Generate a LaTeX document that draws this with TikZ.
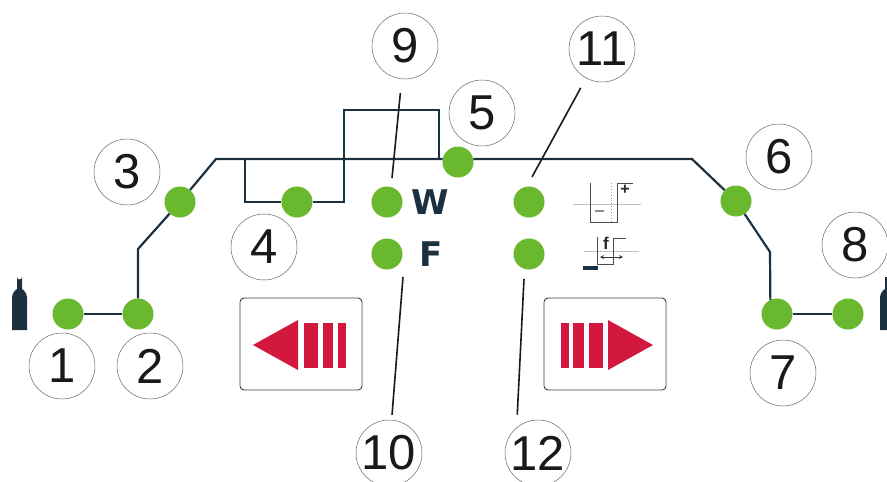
\documentclass[tikz,border=0pt]{standalone}
\usepackage{fontspec}
\setmainfont{Liberation Sans}
\newfontfamily\heavyfont{DejaVu Sans}
\definecolor{wirecol}{HTML}{1C3140}
\definecolor{dotcol}{HTML}{6AB82E}
\definecolor{redcol}{HTML}{D2183C}
\begin{document}
\begin{tikzpicture}[x=1pt,y=-1pt]
\tikzstyle{dot}=[circle,fill=dotcol,draw=none,minimum size=31pt,inner sep=0pt];
\tikzstyle{num}=[circle,draw=black!60,line width=0.5pt,minimum size=66pt,inner sep=0pt,font=\fontsize{49}{49}\selectfont,text=black!90];
\tikzstyle{wire}=[draw=wirecol,line width=2.2pt];
\tikzstyle{leader}=[draw=black!90,line width=1.6pt];
\tikzstyle{bigletter}=[inner sep=0pt,font=\heavyfont\fontsize{34}{34}\selectfont\bfseries,text=wirecol];
\tikzstyle{iconline}=[draw=black!70,line width=0.9pt];
\tikzstyle{iconrule}=[draw=black!25,line width=0.7pt];
\tikzstyle{panel}=[draw=black!75,line width=0.9pt,rounded corners=4pt];
\useasboundingbox (0,0) rectangle (887,482);
\coordinate (a) at (138,249);
\coordinate (b) at (216,159);
\coordinate (c) at (692,159);
\coordinate (d) at (770,252);
\coordinate (e) at (245,159);
\coordinate (f) at (344,159);
\coordinate (g) at (439,159);
% green dots
\node[dot] (d1) at (68,314) {};
\node[dot] (d2) at (138,314) {};
\node[dot] (d3) at (180,202) {};
\node[dot] (d4) at (297,202) {};
\node[dot] (d5) at (458,162) {};
\node[dot] (d6) at (736,201) {};
\node[dot] (d7) at (777,314) {};
\node[dot] (d8) at (848,314) {};
\node[dot] (d9) at (387,202) {};
\node[dot] (d10) at (387,254) {};
\node[dot] (d11) at (529,202) {};
\node[dot] (d12) at (529,254) {};
% wires
\draw[wire] (d1) -- (d2);
\draw[wire] (d2) -- (a) -- (d3);
\draw[wire] (d3) -- (b) -- (d5.169);
\draw[wire] (d5.11) -- (c) -- (d6);
\draw[wire] (d6) -- (d) -- (d7.115);
\draw[wire] (d7) -- (d8);
\draw[wire] (e) -- (245,202) -- (d4);
\draw[wire] (d4) -- (344,202) -- (f);
\draw[wire] (f) -- (344,110) -- (439,110) -- (g);
% numbered circles
\node[num] (c1) at (62,366) {1};
\node[num] (c2) at (150,366) {2};
\node[num] (c3) at (127,172) {3};
\node[num] (c4) at (264,247) {4};
\node[num] (c5) at (482,113) {5};
\node[num] (c6) at (779,157) {6};
\node[num] (c7) at (783,373) {7};
\node[num] (c8) at (855,245) {8};
\node[num] (c9) at (405,46) {9};
\node[num] (c10) at (389,453) {10};
\node[num] (c11) at (602,49) {11};
\node[num] (c12) at (538,453) {12};
% leaders
\coordinate (t9) at (392,178);
\coordinate (t10) at (403,277);
\coordinate (t11) at (532,177);
\coordinate (t12) at (524,279);
\draw[leader,shorten <=14pt] (c9) -- (t9);
\draw[leader,shorten >=5pt] (t10) -- (c10);
\draw[leader,shorten <=11pt] (c11) -- (t11);
\draw[leader,shorten >=13pt] (t12) -- (c12.130);
% letters
\node[bigletter] (w) at (430.5,202) {W};
\node[bigletter] (fl) at (431.5,254) {F};
% gas bottles
\fill[wirecol] (17,277) arc (180:0:2.5) -- (22,289) .. controls (25,291) and (27,294) .. (27,298) -- (27,330) -- (12,330) -- (12,298) .. controls (12,294) and (14,291) .. (17,289) -- cycle;
\fill[wirecol] (887,277) -- (885,277) -- (885,289) .. controls (882,291) and (880,294) .. (880,298) -- (880,330) -- (887,330) -- cycle;
% buttons
\draw[panel] (240,298) rectangle (362,390);
\fill[redcol] (253,345) -- (298,320) -- (298,370) -- cycle;
\foreach \xa/\xb in {304/318,323/333,338/346}
  \fill[redcol] (\xa,323) rectangle (\xb,368);
\draw[panel] (544,298) rectangle (666,390);
\fill[redcol] (653,345) -- (608,320) -- (608,370) -- cycle;
\foreach \xa/\xb in {589/603,573/584,561/569}
  \fill[redcol] (\xa,323) rectangle (\xb,368);
% small icons
\draw[iconrule] (573,204) -- (641,204);
\draw[iconline] (590,183) -- (590,222) -- (617,222) -- (617,183) -- (633,183);
\draw[iconline,dotted,draw=black!40] (611,183) -- (611,222);
\node[inner sep=0pt,font=\fontsize{16}{16}\selectfont\bfseries,text=black!85] (plus) at (625,190) {+};
\draw[black!45,line width=1.5pt] (595,211) -- (604,211);
\draw[iconrule] (584,251) -- (639,251);
\draw[iconline] (597,237) -- (597,264) -- (613,264) -- (613,238) -- (626,238);
\node[inner sep=0pt,font=\fontsize{17}{17}\selectfont\bfseries,text=black!85] (fsym) at (606,243) {f};
\draw[black!80,line width=0.8pt,<->,>=stealth] (600,257) -- (623,257);
\fill[wirecol] (583,266) rectangle (598,270);
\end{tikzpicture}
\end{document}
